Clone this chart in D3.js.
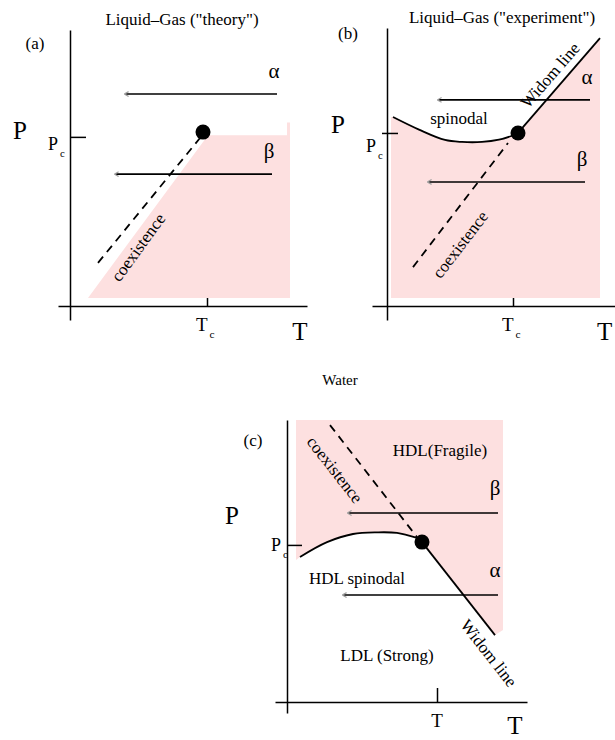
<!DOCTYPE html>
<html>
<head>
<meta charset="utf-8">
<script src="https://cdn.jsdelivr.net/npm/d3@7"></script>
<style>
  body { margin: 0; background: #fff; }
  svg { display: block; }
  text { font-family: "Liberation Serif", "Times New Roman", serif; fill: #000; }
</style>
</head>
<body>
<svg id="chart" width="615" height="740"></svg>
<script>
// ---------- data (each panel: T along x, P along y, arbitrary units 0..100) ----------

// (a) Liquid–Gas, theory
const aTitle = 'Liquid\u2013Gas ("theory")';
const aLiquid = [[9, 2.9], [69, 61], [108.5, 61], [108.5, 65.5], [110, 65.5], [110, 2.9]];
const aCoexistence = [[14, 15.4], [65, 60]];
const aCritical = [66.5, 62.1];
const aTcPc = [68.5, 60.4];
const aPaths = [[75.7, 103.5, 27.5], [47.1, 101, 22.5]];   // [P, T from, T to]
const aPathNames = ["\u03b1", "\u03b2"];
const aNotes = [["coexistence", 34, 21, -54]];              // [text, T, P, angle]

// (b) Liquid–Gas, experiment
const bTitle = 'Liquid\u2013Gas ("experiment")';
const bSpinodal = [[3, 67.5], [16, 63], [29, 59.3], [37.5, 58.6], [47.5, 58.6], [56, 59.4], [62.5, 60.8]];
const bWidom = [[65.5, 61.8], [106.5, 95.7]];
const bCoexistence = [[13, 13.9], [60.5, 58.2]];
const bCritical = [65.5, 61.8];
const bTcPc = [63, 61.8];
const bPaths = [[73.6, 101.5, 25.5], [44.3, 99, 20.5]];
const bPathNames = ["\u03b1", "\u03b2"];
const bNotes = [["coexistence", 36.5, 22, -52.5], ["Widom line", 81.5, 82.5, -49], ["spinodal", 36, 67.1, 0]];

// (c) Water
const cTitle = "Water";
const cSpinodal = [[6.5, 51.8], [20, 57.1], [33, 60], [45, 60.6], [55, 60.4], [65, 58.6]];
const cWidom = [[67.5, 57.1], [104, 23.9]];
const cCoexistence = [[21.5, 98.9], [65, 58.9]];
const cCritical = [67.5, 57.1];
const cTcPc = [75, 56.1];
const cPaths = [[67.5, 105.5, 30.5], [38.2, 105.5, 28]];
const cPathNames = ["\u03b2", "\u03b1"];
const cNotes = [["coexistence", 24, 83, 52], ["Widom line", 101, 17.5, 52],
                ["HDL(Fragile)", 76.5, 90, 0], ["HDL spinodal", 35, 44.3, 0], ["LDL (Strong)", 50, 16.8, 0]];
// pink (HDL) region of (c): rectangle top, then Widom line and spinodal below
const cTop = [[4.5, 100.7], [108, 100.7], [108, 25.7]];
const cLeftFoot = [4.5, 50.7];

// ---------- drawing ----------
const svg = d3.select("#chart");
const PINK = "#fde0e0";

svg.append("defs").append("marker")
  .attr("id", "head").attr("viewBox", "0 0 10 10")
  .attr("refX", 8).attr("refY", 5)
  .attr("markerWidth", 6).attr("markerHeight", 6)
  .attr("markerUnits", "userSpaceOnUse")
  .attr("orient", "auto")
  .append("path").attr("d", "M2,1 L9,5 L2,9")
  .attr("fill", "none").attr("stroke", "#a0a0a0").attr("stroke-width", 2);

function makeScales(ox, oy) {
  const x = d3.scaleLinear().domain([0, 100]).range([ox, ox + 200]);
  const y = d3.scaleLinear().domain([0, 100]).range([oy, oy - 280]);
  return { x, y };
}

const line = (s) => d3.line().x(d => s.x(d[0])).y(d => s.y(d[1]));
const curve = (s) => d3.line().x(d => s.x(d[0])).y(d => s.y(d[1])).curve(d3.curveCatmullRom);

function drawAxes(g, s, xExt, yExt, tc, pc, opt) {
  const xs = s.x.copy().domain(xExt).range(xExt.map(s.x));
  const ys = s.y.copy().domain(yExt).range(yExt.map(s.y));
  g.append("g").attr("transform", `translate(0,${s.y(0)})`)
    .call(d3.axisBottom(xs).tickValues([tc]).tickSize(-opt.tTick).tickSizeOuter(0).tickFormat(""))
    .call(a => a.selectAll("path, line").attr("stroke", "#000").attr("stroke-width", 1.5));
  g.append("g").attr("transform", `translate(${s.x(0)},0)`)
    .call(d3.axisLeft(ys).tickValues([pc]).tickSize(-opt.pTick).tickSizeOuter(0).tickFormat(""))
    .call(a => a.selectAll("path, line").attr("stroke", "#000").attr("stroke-width", 1.5))
    .call(a => a.selectAll(".tick line").attr("x1", opt.pTickOut || 0));
}

function sub(g, x, y, main, subText, size, anchor) {
  const t = g.append("text").attr("x", x).attr("y", y)
    .attr("font-size", size).attr("text-anchor", anchor || "start");
  t.append("tspan").text(main);
  if (subText) t.append("tspan").attr("font-size", size * 0.6).attr("dx", 2).attr("dy", size * 0.38).text(subText);
  return t;
}

function drawPaths(g, s, paths, names, lift) {
  paths.forEach((p, i) => {
    g.append("path")
      .attr("d", line(s)([[p[1], p[0]], [p[2], p[0]]]))
      .attr("stroke", "#000").attr("stroke-width", 1.6).attr("fill", "none")
      .attr("marker-end", "url(#head)");
    g.append("text")
      .attr("x", s.x(p[1]) - 3).attr("y", s.y(p[0]) - lift)
      .attr("text-anchor", "middle").attr("font-size", 21).text(names[i]);
  });
}

function drawNotes(g, s, notes, size) {
  notes.forEach(n => {
    g.append("text")
      .attr("transform", `translate(${s.x(n[1])},${s.y(n[2])}) rotate(${n[3]})`)
      .attr("text-anchor", "middle").attr("dy", "0.35em")
      .attr("font-size", size).attr("fill", n[3] ? "#333" : "#000")
      .text(n[0]);
  });
}

function dashed(g, s, pts) {
  g.append("path").attr("d", line(s)(pts))
    .attr("stroke", "#000").attr("stroke-width", 1.8).attr("fill", "none")
    .attr("stroke-dasharray", "8,6");
}

function critical(g, s, pt) {
  g.append("circle").attr("cx", s.x(pt[0])).attr("cy", s.y(pt[1])).attr("r", 7.5).attr("fill", "#000");
}

const joinL = (d) => d.replace(/^M/, "L");

// ----- panel (a) -----
{
  const s = makeScales(70, 306);
  const g = svg.append("g");
  g.append("path").attr("d", line(s)(aLiquid) + "Z").attr("fill", PINK);
  drawAxes(g, s, [-6, 118.5], [-5, 98.6], aTcPc[0], aTcPc[1], { tTick: 8, pTick: 16 });
  dashed(g, s, aCoexistence);
  drawPaths(g, s, aPaths, aPathNames, 16);
  drawNotes(g, s, aNotes, 17);
  critical(g, s, aCritical);
  g.append("text").attr("x", 182).attr("y", 25).attr("text-anchor", "middle").attr("font-size", 17).text(aTitle);
  g.append("text").attr("x", 35).attr("y", 49).attr("text-anchor", "middle").attr("font-size", 17).text("(a)");
  g.append("text").attr("x", 20).attr("y", 139).attr("text-anchor", "middle").attr("font-size", 25).text("P");
  sub(g, 48, 150, "P", "c", 18);
  sub(g, s.x(aTcPc[0]) - 11, 331, "T", "c", 19);
  g.append("text").attr("x", 300).attr("y", 340).attr("text-anchor", "middle").attr("font-size", 25).text("T");
}

// ----- panel (b) -----
{
  const s = makeScales(387, 306);
  const g = svg.append("g");
  const d = line(s)([[2, 2.9], [2, bSpinodal[0][1]]]) + joinL(curve(s)(bSpinodal))
    + joinL(line(s)([bCritical, bWidom[1], [106.5, 94], [106.5, 2.9]])) + "Z";
  g.append("path").attr("d", d).attr("fill", PINK);
  drawAxes(g, s, [-7.5, 114], [-5, 99.3], bTcPc[0], bTcPc[1], { tTick: 8, pTick: 11, pTickOut: -5 });
  dashed(g, s, bCoexistence);
  g.append("path").attr("d", curve(s)(bSpinodal)).attr("stroke", "#000").attr("stroke-width", 1.8).attr("fill", "none");
  g.append("path").attr("d", line(s)(bWidom)).attr("stroke", "#000").attr("stroke-width", 1.8).attr("fill", "none");
  drawPaths(g, s, bPaths, bPathNames, 16);
  drawNotes(g, s, bNotes, 17);
  critical(g, s, bCritical);
  g.append("text").attr("x", 502).attr("y", 23).attr("text-anchor", "middle").attr("font-size", 17).text(bTitle);
  g.append("text").attr("x", 348).attr("y", 39).attr("text-anchor", "middle").attr("font-size", 17).text("(b)");
  g.append("text").attr("x", 338).attr("y", 133).attr("text-anchor", "middle").attr("font-size", 25).text("P");
  sub(g, 366, 152, "P", "c", 18);
  sub(g, s.x(bTcPc[0]) - 11, 331, "T", "c", 19);
  g.append("text").attr("x", 597).attr("y", 340).attr("font-size", 25).text("T");
}

// ----- panel (c) -----
{
  const s = makeScales(287, 702);
  const g = svg.append("g");
  const lower = [cCritical, ...cSpinodal.slice().reverse()];
  const d = line(s)([...cTop, cWidom[1]]) + joinL(line(s)([cCritical])) + joinL(curve(s)(lower))
    + joinL(line(s)([cLeftFoot])) + "Z";
  g.append("path").attr("d", d).attr("fill", PINK);
  drawAxes(g, s, [-6, 120], [-3.9, 100.7], cTcPc[0], cTcPc[1], { tTick: 14, pTick: 15 });
  dashed(g, s, cCoexistence);
  g.append("path").attr("d", curve(s)(cSpinodal)).attr("stroke", "#000").attr("stroke-width", 1.8).attr("fill", "none");
  g.append("path").attr("d", line(s)(cWidom)).attr("stroke", "#000").attr("stroke-width", 1.8).attr("fill", "none");
  drawPaths(g, s, cPaths, cPathNames, 18);
  drawNotes(g, s, cNotes, 17);
  critical(g, s, cCritical);
  g.append("text").attr("x", 340).attr("y", 385).attr("text-anchor", "middle").attr("font-size", 15).text(cTitle);
  g.append("text").attr("x", 253).attr("y", 446).attr("text-anchor", "middle").attr("font-size", 17).text("(c)");
  g.append("text").attr("x", 232).attr("y", 524).attr("text-anchor", "middle").attr("font-size", 25).text("P");
  sub(g, 271, 551, "P", "c", 18);
  g.append("text").attr("x", s.x(cTcPc[0])).attr("y", 727).attr("text-anchor", "middle").attr("font-size", 19).text("T");
  g.append("text").attr("x", 515).attr("y", 734).attr("text-anchor", "middle").attr("font-size", 25).text("T");
}
</script>
</body>
</html>
